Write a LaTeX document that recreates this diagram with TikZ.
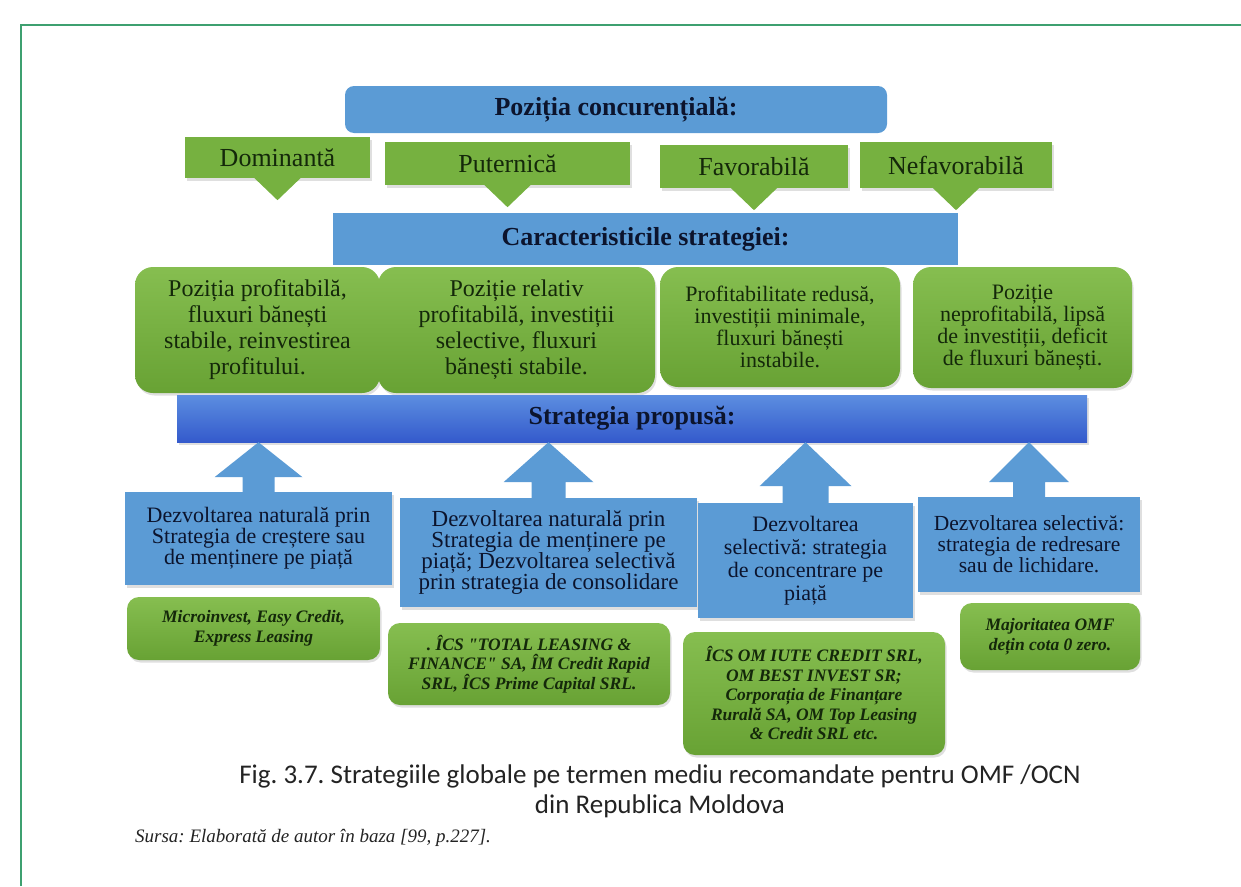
\documentclass[tikz,border=0pt]{standalone}
\usepackage{fontspec}
\setmainfont{Liberation Serif}
\newfontfamily\firmfont{Liberation Serif}
\newfontfamily\capfont{Carlito}
\usepackage{tikz}
\usetikzlibrary{shadows}
\frenchspacing

\definecolor{framegreen}{RGB}{62,160,112}
\definecolor{headblue}{RGB}{91,155,213}
\definecolor{propblue}{RGB}{52,90,204}
\definecolor{proptop}{RGB}{92,142,224}
\definecolor{tabgreen}{RGB}{118,177,64}
\definecolor{greentop}{RGB}{134,190,80}
\definecolor{greenbot}{RGB}{104,162,52}
\definecolor{greentext}{RGB}{20,40,10}
\definecolor{bluetext}{RGB}{12,20,45}
\definecolor{captext}{RGB}{35,35,35}

% down pointer under a tab
\newcommand{\tabarrow}[1]{%
  \fill[tabgreen] ([xshift=-24pt,yshift=1pt]#1.south) -- ([xshift=24pt,yshift=1pt]#1.south) -- ([yshift=-22pt]#1.south) -- cycle;}

% up arrow of a callout: from, to, half stem, half head, head length
\newcommand{\callarrow}[5]{%
  \path (#1.north |- #2.south) coordinate (tip) ([yshift=-#5pt]tip) coordinate (hb);
  \fill[headblue] ([xshift=-#3pt,yshift=-2pt]#1.north) -- ([xshift=-#3pt]hb) -- ([xshift=-#4pt]hb) -- (tip)
    -- ([xshift=#4pt]hb) -- ([xshift=#3pt]hb) -- ([xshift=#3pt,yshift=-2pt]#1.north) -- cycle;}

\begin{document}
\begin{tikzpicture}[x=1pt,y=-1pt,
  lift/.style={drop shadow={opacity=0.25,shadow xshift=1.5pt,shadow yshift=-2.5pt}},
  head/.style={fill=headblue, text=bluetext, inner sep=0pt, font=\fontsize{26}{28}\selectfont\bfseries},
  tab/.style={fill=tabgreen, text=greentext, inner sep=0pt, lift, font=\fontsize{26}{28}\selectfont},
  trait/.style={rounded corners=18pt, top color=greentop, bottom color=greenbot, text=greentext,
    align=center, inner sep=0pt, lift, font=\fontsize{24}{26}\selectfont},
  callbox/.style={fill=headblue, text=bluetext, align=center, inner sep=0pt, lift, font=\fontsize{22}{21}\selectfont},
  firm/.style={rounded corners=12pt, top color=greentop, bottom color=greenbot, text=greentext,
    align=center, inner sep=0pt, lift, font=\firmfont\fontsize{17.5}{19.5}\selectfont\bfseries\itshape}]

	\useasboundingbox (0,0) rectangle (1241,886);
	\draw[framegreen, line width=2pt] (21,886) -- (21,25) -- (1241,25);

	% competitive position
	\node[head, rounded corners=9pt, minimum width=542pt, minimum height=47pt] (pos) at (616,109.5) {Poziția concurențială:};
	\node[tab, minimum width=185pt, minimum height=41pt] (dom) at (277.5,157.5) {Dominantă};
	\node[tab, minimum width=245pt, minimum height=43pt] (put) at (507.5,163.5) {Puternică};
	\node[tab, minimum width=188pt, minimum height=43pt] (fav) at (754,166.5) {Favorabilă};
	\node[tab, minimum width=192pt, minimum height=46pt] (nef) at (956,165) {Nefavorabilă};
	\foreach \t in {dom,put,fav,nef} {\tabarrow{\t}}

	% characteristics
	\node[head, minimum width=625pt, minimum height=52pt] (car) at (645.5,239) {Caracteristicile strategiei:};
	\node[trait, minimum width=245pt, minimum height=126pt] (profit) at (257.5,330)
		{Poziția profitabilă,\\ fluxuri bănești\\ stabile, reinvestirea\\ profitului.};
	\node[trait, minimum width=277pt, minimum height=126pt] (relativ) at (516.5,330)
		{Poziție relativ\\ profitabilă, investiții\\ selective, fluxuri\\ bănești stabile.};
	\node[trait, font=\fontsize{22}{22}\selectfont, minimum width=240pt, minimum height=120pt] (redus) at (780,327)
		{Profitabilitate redusă,\\ investiții minimale,\\ fluxuri bănești\\ instabile.};
	\node[trait, font=\fontsize{22}{22}\selectfont, minimum width=219pt, minimum height=121pt] (neprof) at (1022.5,327.5)
		{Poziție\\ neprofitabilă, lipsă\\ de investiții, deficit\\ de fluxuri bănești.};

	% proposed strategy
	\node[head, top color=proptop, bottom color=propblue, lift, minimum width=910pt, minimum height=47pt] (strat) at (632,418.5) {Strategia propusă:};

	\node[callbox, minimum width=267pt, minimum height=93pt] (dnat) at (258.5,538.5)
		{Dezvoltarea naturală prin\\ Strategia de creștere sau\\ de menținere pe piață};
	\node[callbox, font=\fontsize{23}{21}\selectfont, minimum width=297pt, minimum height=109pt] (dmen) at (548.5,552.5)
		{Dezvoltarea naturală prin\\ Strategia de menținere pe\\ piață; Dezvoltarea selectivă\\ prin strategia de consolidare};
	\node[callbox, font=\fontsize{22}{23}\selectfont, minimum width=215pt, minimum height=115pt] (dconc) at (805.5,560.5)
		{Dezvoltarea\\ selectivă: strategia\\ de concentrare pe\\ piață};
	\node[callbox, font=\fontsize{21.5}{21}\selectfont, minimum width=222pt, minimum height=95pt] (dsel) at (1029,544.5)
		{Dezvoltarea selectivă:\\ strategia de redresare\\ sau de lichidare.};
	\callarrow{dnat}{strat}{16}{44}{35}
	\callarrow{dmen}{strat}{17}{45}{40}
	\callarrow{dconc}{strat}{23}{46}{44}
	\callarrow{dsel}{strat}{16}{40}{40}

	% firms
	\node[firm, minimum width=253pt, minimum height=63pt] (fmic) at (253.5,628.5)
		{Microinvest, Easy Credit,\\ Express Leasing};
	\node[firm, minimum width=282pt, minimum height=82pt] (ftotal) at (529,664)
		{. ÎCS "TOTAL LEASING \&\\ FINANCE" SA, ÎM Credit Rapid\\ SRL, ÎCS Prime Capital SRL.};
	\node[firm, minimum width=262pt, minimum height=123pt] (fiute) at (814,693.5)
		{ÎCS OM IUTE CREDIT SRL,\\ OM BEST INVEST SR;\\ Corporația de Finanțare\\ Rurală SA, OM Top Leasing\\ \& Credit SRL etc.};
	\node[firm, minimum width=180pt, minimum height=67pt] (fmaj) at (1050,636.5)
		{Majoritatea OMF\\ dețin cota 0 zero.};

	% caption
	\node[font=\capfont\fontsize{27}{30}\selectfont, text=captext, align=center, inner sep=0pt] (cap) at (660,791)
		{Fig. 3.7. Strategiile globale pe termen mediu recomandate pentru OMF /OCN\\ din Republica Moldova};
	\node[anchor=west, font=\fontsize{19}{21}\selectfont\itshape, text=captext, inner sep=0pt] (src) at (135,838)
		{Sursa: Elaborată de autor în baza [99, p.227].};
\end{tikzpicture}
\end{document}
